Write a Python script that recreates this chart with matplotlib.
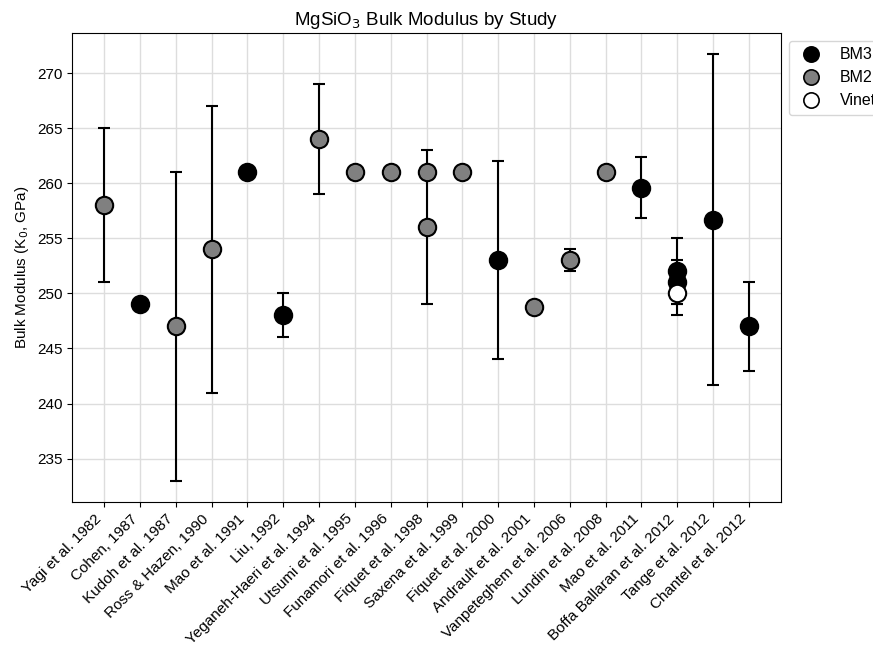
import matplotlib
matplotlib.use("Agg")
import matplotlib.pyplot as plt
import numpy as np

plt.rcParams['font.family'] = ['Liberation Sans', 'DejaVu Sans']

studies = ["Yagi et al. 1982", "Cohen, 1987", "Kudoh et al. 1987", "Ross & Hazen, 1990",
           "Mao et al. 1991", "Liu, 1992", "Yeganeh-Haeri et al. 1994", "Utsumi et al. 1995",
           "Funamori et al. 1996", "Fiquet et al. 1998", "Saxena et al. 1999",
           "Fiquet et al. 2000", "Andrault et al. 2001", "Vanpeteghem et al. 2006",
           "Lundin et al. 2008", "Mao et al. 2011", "Boffa Ballaran et al. 2012",
           "Tange et al. 2012", "Chantel et al. 2012"]

# one row per measurement (study, K0, error, equation of state)
point_study = ["Yagi et al. 1982", "Cohen, 1987", "Kudoh et al. 1987", "Ross & Hazen, 1990",
               "Mao et al. 1991", "Liu, 1992", "Yeganeh-Haeri et al. 1994", "Utsumi et al. 1995",
               "Funamori et al. 1996", "Fiquet et al. 1998", "Fiquet et al. 1998",
               "Saxena et al. 1999", "Fiquet et al. 2000", "Andrault et al. 2001",
               "Vanpeteghem et al. 2006", "Lundin et al. 2008", "Mao et al. 2011",
               "Boffa Ballaran et al. 2012", "Boffa Ballaran et al. 2012",
               "Boffa Ballaran et al. 2012", "Tange et al. 2012", "Chantel et al. 2012"]
k0 = [258, 249, 247, 254, 261, 248, 264, 261, 261, 261, 256, 261, 253, 248.8,
      253, 261, 259.6, 252, 251, 250, 256.7, 247]
k0_err = [7, 0, 14, 13, 0, 2, 5, 0, 0, 0, 7, 0, 9, 0, 1, 0, 2.8, 3, 2, 2, 15, 4]
eos = ["BM2", "BM3", "BM2", "BM2", "BM3", "BM3", "BM2", "BM2", "BM2", "BM2", "BM2",
       "BM2", "BM3", "BM2", "BM2", "BM2", "BM3", "BM3", "BM3", "Vinet", "BM3", "BM3"]

colors = {"BM3": "black", "BM2": "gray", "Vinet": "white"}

fig = plt.figure(figsize=(8.73, 6.48), dpi=100)
ax = fig.add_axes([72 / 873, 1 - 502 / 648, (781 - 72) / 873, (502 - 33) / 648])

for s, k, e, t in zip(point_study, k0, k0_err, eos):
    x = studies.index(s)
    ax.errorbar(x, k, yerr=e if e > 0 else None, fmt='o', color='black',
                markerfacecolor=colors[t], markeredgecolor='black', markeredgewidth=1.5,
                markersize=12.5, ecolor='black', elinewidth=1.5, capsize=4, capthick=1.5)

handles = [plt.Line2D([], [], marker='o', linestyle='none', markersize=11,
                      markerfacecolor=colors[t], markeredgecolor='black', markeredgewidth=1.2,
                      label=t) for t in ["BM3", "BM2", "Vinet"]]
ax.legend(handles=handles, loc='upper left', bbox_to_anchor=(1.0, 1), fontsize=11.5)

ax.set_xticks(range(len(studies)))
ax.set_xticklabels(studies, rotation=45, ha='right', fontsize=11)
ax.tick_params(axis='y', labelsize=11)
ax.set_ylabel("Bulk Modulus (K$_0$, GPa)", fontsize=11)
ax.set_title("MgSiO$_3$ Bulk Modulus by Study", fontsize=13.5)
ax.grid(True, color='#dddddd', linewidth=1)
ax.set_axisbelow(True)

fig.savefig("out.png", dpi=100)
